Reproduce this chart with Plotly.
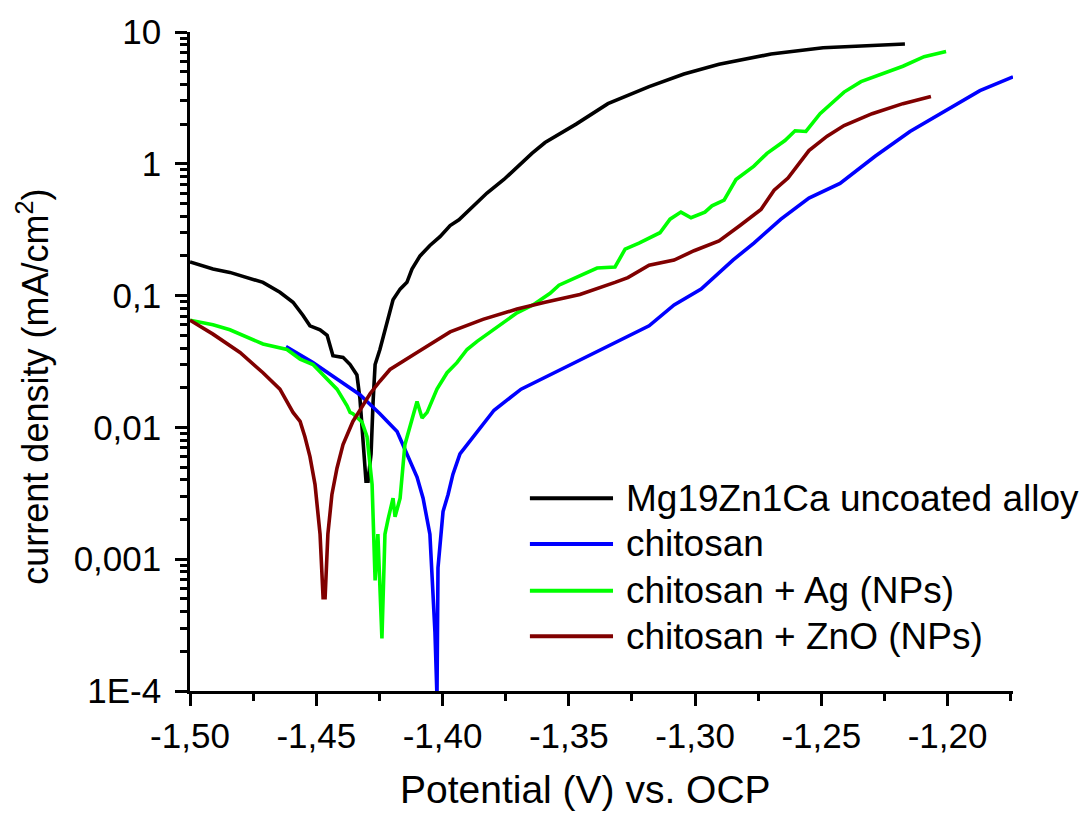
import plotly.graph_objects as go

# Tafel polarisation curves: potential (V vs. OCP) and current density (mA/cm^2)
names = ["Mg19Zn1Ca uncoated alloy", "chitosan", "chitosan + Ag (NPs)", "chitosan + ZnO (NPs)"]
colors = ["#000000", "#0000ff", "#00ff00", "#800000"]

alloy_v = [-1.5000, -1.4909, -1.4842, -1.4774, -1.4711, -1.4644, -1.4592, -1.4553, -1.4525,
           -1.4485, -1.4457, -1.4434, -1.4394, -1.4366, -1.4355, -1.4339, -1.4327, -1.4315,
           -1.4303, -1.4295, -1.4283, -1.4275, -1.4267, -1.4248, -1.4220, -1.4196, -1.4168,
           -1.4141, -1.4121, -1.4089, -1.4050, -1.4010, -1.3970, -1.3935, -1.3824, -1.3757,
           -1.3646, -1.3594, -1.3471, -1.3345, -1.3182, -1.3044, -1.2905, -1.2699, -1.2493,
           -1.2169]
alloy_i = [0.180, 0.159, 0.150, 0.137, 0.126, 0.106, 0.089, 0.071, 0.059,
           0.055, 0.050, 0.035, 0.034, 0.030, 0.028, 0.025, 0.0165, 0.0078,
           0.0039, 0.0039, 0.0063, 0.0157, 0.030, 0.039, 0.063, 0.093, 0.112,
           0.126, 0.159, 0.20, 0.24, 0.28, 0.34, 0.376, 0.60, 0.76,
           1.2, 1.45, 2.0, 2.86, 3.85, 4.8, 5.7, 6.8, 7.6,
           8.1]

chitosan_v = [-1.4620, -1.4513, -1.4418, -1.4327, -1.4299, -1.4248, -1.4180, -1.4157, -1.4101,
              -1.4077, -1.4050, -1.4030, -1.4022, -1.4018, -1.3998, -1.3978, -1.3959, -1.3931,
              -1.3852, -1.3796, -1.3689, -1.3594, -1.3456, -1.3317, -1.3182, -1.3083, -1.2976,
              -1.2850, -1.2767, -1.2660, -1.2549, -1.2426, -1.2287, -1.2149, -1.2010, -1.1872,
              -1.1741]
chitosan_i = [0.041, 0.031, 0.0233, 0.0177, 0.0157, 0.0127, 0.0093, 0.0074, 0.0042,
              0.0029, 0.00155, 0.00028, 0.00009, 0.00086, 0.0023, 0.0031, 0.0044, 0.0063,
              0.0099, 0.0135, 0.0195, 0.024, 0.033, 0.044, 0.059, 0.085, 0.112,
              0.186, 0.25, 0.38, 0.55, 0.71, 1.14, 1.76, 2.5, 3.59,
              4.57]

ag_v = [-1.5000, -1.4909, -1.4842, -1.4774, -1.4711, -1.4616, -1.4564, -1.4513, -1.4473,
        -1.4418, -1.4378, -1.4366, -1.4355, -1.4319, -1.4299, -1.4279, -1.4267, -1.4256,
        -1.4240, -1.4228, -1.4216, -1.4196, -1.4188, -1.4168, -1.4149, -1.4117, -1.4101,
        -1.4081, -1.4061, -1.4022, -1.3982, -1.3943, -1.3903, -1.3863, -1.3812, -1.3761,
        -1.3705, -1.3642, -1.3574, -1.3539, -1.3456, -1.3388, -1.3317, -1.3277, -1.3222,
        -1.3139, -1.3099, -1.3056, -1.3016, -1.2961, -1.2933, -1.2885, -1.2838, -1.2767,
        -1.2715, -1.2644, -1.2604, -1.2561, -1.2505, -1.2450, -1.2410, -1.2343, -1.2260,
        -1.2177, -1.2093, -1.2006]
ag_i = [0.065, 0.060, 0.055, 0.048, 0.043, 0.039, 0.033, 0.030, 0.025,
        0.0195, 0.0146, 0.013, 0.0127, 0.011, 0.0085, 0.0037, 0.00069, 0.00155,
        0.00025, 0.00155, 0.0020, 0.0029, 0.0021, 0.0029, 0.0074, 0.0118, 0.0157,
        0.0118, 0.013, 0.0195, 0.026, 0.031, 0.039, 0.045, 0.053, 0.063,
        0.074, 0.085, 0.104, 0.12, 0.142, 0.162, 0.165, 0.225, 0.25,
        0.30, 0.38, 0.43, 0.39, 0.43, 0.48, 0.53, 0.76, 0.96,
        1.2, 1.5, 1.78, 1.76, 2.4, 3.0, 3.5, 4.2, 4.8,
        5.5, 6.5, 7.1]

zno_v = [-1.5000, -1.4909, -1.4802, -1.4711, -1.4644, -1.4592, -1.4564, -1.4545, -1.4525,
         -1.4505, -1.4485, -1.4473, -1.4465, -1.4454, -1.4438, -1.4418, -1.4394, -1.4355,
         -1.4327, -1.4307, -1.4287, -1.4248, -1.4208, -1.4101, -1.3970, -1.3840, -1.3705,
         -1.3594, -1.3456, -1.3317, -1.3266, -1.3182, -1.3083, -1.3004, -1.2905, -1.2822,
         -1.2739, -1.2687, -1.2632, -1.2549, -1.2477, -1.2410, -1.2299, -1.2177, -1.2066]
zno_i = [0.065, 0.051, 0.037, 0.026, 0.0195, 0.013, 0.0111, 0.0085, 0.0060,
         0.0037, 0.00155, 0.00051, 0.00051, 0.00155, 0.0031, 0.0049, 0.0074, 0.0111,
         0.0135, 0.0157, 0.018, 0.0224, 0.0275, 0.037, 0.053, 0.066, 0.079,
         0.089, 0.102, 0.126, 0.137, 0.17, 0.186, 0.219, 0.26, 0.34,
         0.45, 0.63, 0.78, 1.26, 1.62, 1.95, 2.4, 2.86, 3.24]

series = [(alloy_v, alloy_i), (chitosan_v, chitosan_i), (ag_v, ag_i), (zno_v, zno_i)]

# tick label text (decimal comma, plain hyphen for the minus sign)
x_labels = {"−1,50": "-1,50", "−1,45": "-1,45", "−1,40": "-1,40", "−1,35": "-1,35",
            "−1,30": "-1,30", "−1,25": "-1,25", "−1,20": "-1,20"}
y_labels = {"0,0001": "1E-4", "1E-4": "1E-4", "1e-4": "1E-4", "100μ": "1E-4",
            "1E-3": "0,001", "1E-2": "0,01", "1E-1": "0,1", "1E0": "1", "1E1": "10"}

FONT = "Liberation Sans, Arial, sans-serif"

fig = go.Figure()
for (v, i), name, c in zip(series, names, colors):
    fig.add_trace(go.Scatter(x=v, y=i, mode="lines", name=name,
                             line=dict(color=c, width=3.6), showlegend=False))

fig.update_layout(
    width=1090, height=815,
    margin=dict(l=190, r=77, t=28, b=124),
    plot_bgcolor="white", paper_bgcolor="white",
    separators=",.",
    font=dict(family=FONT, size=35, color="black"),
    xaxis=dict(
        range=[-1.5, -1.1741], tickmode="linear", tick0=-1.5, dtick=0.05,
        tickformat=".2f", labelalias=x_labels,
        ticks="outside", ticklen=12, tickwidth=2.5, tickcolor="black",
        showline=True, linewidth=2.5, linecolor="black",
        showgrid=False, zeroline=False,
        tickfont=dict(size=35),
        minor=dict(tickmode="linear", tick0=-1.5, dtick=0.025, ticks="outside", ticklen=7,
                   tickwidth=2.5, tickcolor="black", showgrid=False),
    ),
    yaxis=dict(
        type="log", range=[-4, 1], tickmode="linear", tick0=0, dtick=1,
        exponentformat="none", labelalias=y_labels,
        ticks="outside", ticklen=12, tickwidth=2.5, tickcolor="black",
        showline=True, linewidth=2.5, linecolor="black",
        showgrid=False, zeroline=False,
        tickfont=dict(size=35), ticklabelstandoff=7,
        minor=dict(dtick="D1", ticks="outside", ticklen=7,
                   tickwidth=2.5, tickcolor="black", showgrid=False),
    ),
)

# axis titles
fig.add_annotation(xref="paper", yref="paper", x=0.48, y=-0.149,
                   text="Potential (V) vs. OCP", showarrow=False,
                   xanchor="center", yanchor="middle", font=dict(size=39))
fig.add_annotation(xref="paper", yref="paper", x=-0.191, y=0.4615,
                   text="current density (mA/cm<sup>2</sup>)", showarrow=False,
                   textangle=-90, xanchor="center", yanchor="middle", font=dict(size=36))

# legend: line samples and labels
leg_y = [0.2926, 0.2232, 0.1523, 0.0830]
for name, c, yy in zip(names, colors, leg_y):
    fig.add_shape(type="line", xref="paper", yref="paper",
                  x0=0.413, x1=0.514, y0=yy, y1=yy,
                  line=dict(color=c, width=4))
    fig.add_annotation(xref="paper", yref="paper", x=0.527, y=yy,
                       text=name, showarrow=False, xanchor="left", yanchor="middle",
                       font=dict(size=37, color="black"))

fig.write_html("out.html")
